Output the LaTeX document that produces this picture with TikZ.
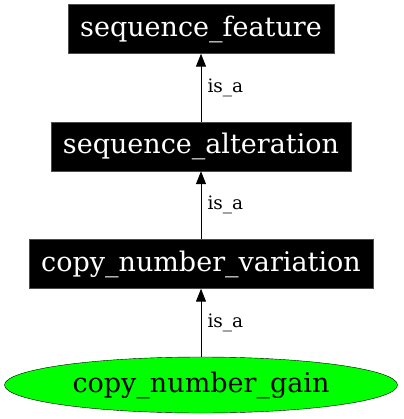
\documentclass[tikz,border=0pt]{standalone}
\usepackage{fontspec}
\setmainfont{DejaVu Serif}
\usetikzlibrary{arrows.meta,shapes.geometric}
\tikzset{
  termbox/.style={fill=black, draw=black!70, text=white, inner xsep=12pt, inner ysep=0pt,
    minimum height=49pt, font=\fontsize{27}{30}\selectfont},
  leafterm/.style={ellipse, fill=green, draw=black, inner sep=0pt, minimum width=393pt,
    minimum height=56pt, font=\fontsize{27}{30}\selectfont},
  isa/.style={-{Triangle[length=13pt,width=10pt]}, line width=1pt},
  isalabel/.style={anchor=west, inner sep=0pt, xshift=6pt, font=\fontsize{18.5}{20}\selectfont}
}
\begin{document}
\begin{tikzpicture}[x=1pt, y=1pt]
	%%%%% START %%%%%
	\useasboundingbox (0, 0) rectangle (403, -419);
	
	\node[termbox] (feature) at (201, -29) {sequence\_feature};
	\node[termbox] (alteration) at (201, -146.5) {sequence\_alteration};
	\node[termbox] (cnv) at (201, -264) {copy\_number\_variation};
	\node[leafterm] (gain) at (201, -385) {copy\_number\_gain};
	
	\draw[isa] (alteration) -- node[isalabel] {is\_a} (feature);
	\draw[isa] (cnv) -- node[isalabel] {is\_a} (alteration);
	\draw[isa] (gain) -- node[isalabel] {is\_a} (cnv);
	
	%%%%% END %%%%%
\end{tikzpicture}
\end{document}
